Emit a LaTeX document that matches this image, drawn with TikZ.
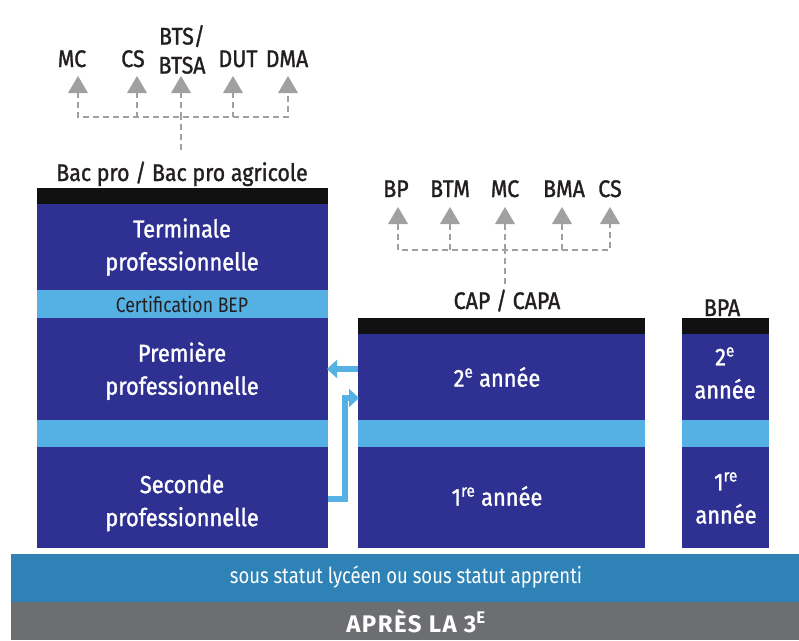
\documentclass[tikz,border=0pt]{standalone}
\usepackage{fontspec}
\setmainfont{Fira Sans}[FakeStretch=0.84]
\newfontfamily\medf{Fira Sans}[FakeStretch=0.89,FakeBold=1.3]
\newfontfamily\boldf{Fira Sans}[LetterSpace=6]
\usetikzlibrary{arrows.meta}
\definecolor{navy}{HTML}{2E3192}
\definecolor{lblue}{HTML}{55B0E3}
\definecolor{midblue}{HTML}{2E82B5}
\definecolor{dgray}{HTML}{6D6E71}
\definecolor{agray}{HTML}{A0A0A0}
\definecolor{barblack}{HTML}{111111}
\definecolor{txt}{HTML}{231F20}
\begin{document}
\begin{tikzpicture}[x=1pt,y=-1pt,
  lbl/.style={text=txt,font=\medf\fontsize{24}{29}\selectfont,inner sep=0pt,anchor=base},
  wtxt/.style={text=white,font=\medf\fontsize{24.5}{33}\selectfont,align=center,inner sep=0pt},
  tree/.style={agray,line width=2.2pt,dash pattern=on 6pt off 4pt},
  larrow/.style={lblue,line width=5.5pt,-{Triangle[length=10pt,width=18pt]}}]
\useasboundingbox (0,0) rectangle (799,640);
% bottom bands
\fill[midblue] (11,554) rectangle (799,602);
\fill[dgray] (11,602) rectangle (799,640);
\node[text=white,font=\fontsize{22}{26}\selectfont,inner sep=0pt] (statut) at (406,577) {sous statut lycéen ou sous statut apprenti};
\node[text=white,font=\boldf\bfseries\fontsize{24}{28}\selectfont,inner sep=0pt] (apres) at (416,621) {APRÈS LA 3\textsuperscript{E}};
% left column
\fill[barblack] (37,188) rectangle (328,204);
\fill[navy] (37,204) rectangle (328,290);
\fill[lblue] (37,290) rectangle (328,318);
\fill[navy] (37,318) rectangle (328,420);
\fill[lblue] (37,420) rectangle (328,447);
\fill[navy] (37,447) rectangle (328,548);
\node[wtxt] (term) at (182,247) {Terminale\\professionnelle};
\node[text=txt,font=\fontsize{21}{24}\selectfont,inner sep=0pt] (cert) at (182,304) {Certification BEP};
\node[wtxt] (prem) at (182,371) {Première\\professionnelle};
\node[wtxt] (sec) at (182,503) {Seconde\\professionnelle};
% middle column
\fill[barblack] (358,318) rectangle (645,334);
\fill[navy] (358,334) rectangle (645,420);
\fill[lblue] (358,420) rectangle (645,447);
\fill[navy] (358,447) rectangle (645,548);
\node[wtxt] (c2) at (497,377) {2\textsuperscript{e} année};
\node[wtxt] (c1) at (497,496) {1\textsuperscript{re} année};
% BPA column
\fill[barblack] (682,318) rectangle (769,334);
\fill[navy] (682,334) rectangle (769,420);
\fill[lblue] (682,420) rectangle (769,447);
\fill[navy] (682,447) rectangle (769,548);
\node[wtxt] (b2) at (725,373) {2\textsuperscript{e}\\année};
\node[wtxt] (b1) at (726,498) {1\textsuperscript{re}\\année};
% column titles
\node[lbl] (bac) at (182,181) {Bac pro / Bac pro agricole};
\node[lbl] (cap) at (507,309) {CAP / CAPA};
\node[lbl] (bpa) at (722,316) {BPA};
% link arrows between columns
\coordinate (la1) at (358,369);
\coordinate (la2) at (327,369);
\draw[larrow] (la1) -- (la2);
\coordinate (lb1) at (328,499);
\coordinate (lb2) at (345,499);
\coordinate (lb3) at (345,398);
\coordinate (lb4) at (359,398);
\draw[larrow] (lb1) -- (lb2) -- (lb3) -- (lb4);
% top tree (bac pro)
\node[lbl] (mc1) at (72,67) {MC};
\node[lbl] (cs1) at (133,67) {CS};
\node[lbl,align=center,anchor=south] (bts) at (182,74) {BTS/\\BTSA};
\node[lbl] (dut) at (238,67) {DUT};
\node[lbl] (dma) at (287,67) {DMA};
\coordinate (t0) at (181,150);
\coordinate (t1) at (181,117);
\draw[tree] (t0) -- (t1);
\draw[tree] (78,92) |- (288,117) -- (288,92);
\foreach \x in {137,233} \draw[tree] (\x,92) -- (\x,117);
\draw[tree] (181,92) -- (t1);
\foreach \x in {78,137,181,233,288} \fill[agray] (\x-10,93) -- (\x+10,93) -- (\x,76) -- cycle;
% CAP tree
\node[lbl] (bp) at (396,197) {BP};
\node[lbl] (btm) at (450,197) {BTM};
\node[lbl] (mc2) at (505,197) {MC};
\node[lbl] (bma) at (564,197) {BMA};
\node[lbl] (cs2) at (610,197) {CS};
\coordinate (u0) at (505,284);
\coordinate (u1) at (505,250);
\draw[tree] (u0) -- (u1);
\draw[tree] (398,224) |- (610,250) -- (610,224);
\foreach \x in {450,505,562} \draw[tree] (\x,224) -- (\x,250);
\foreach \x in {398,450,505,562,610} \fill[agray] (\x-10,224) -- (\x+10,224) -- (\x,207) -- cycle;
\end{tikzpicture}
\end{document}
